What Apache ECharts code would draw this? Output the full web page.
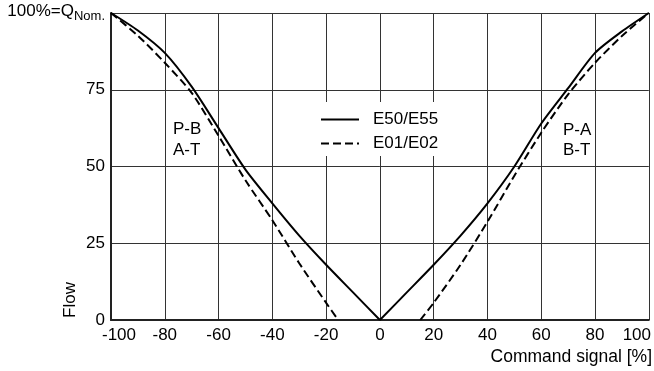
<!DOCTYPE html>
<html>
<head>
<meta charset="utf-8">
<script src="https://cdn.jsdelivr.net/npm/echarts@6/dist/echarts.min.js"></script>
<style>
html, body { margin: 0; padding: 0; background: #fff; }
#main { width: 654px; height: 371px; }
</style>
</head>
<body>
<div id="main"></div>
<script>
// flow curves (x = command signal %, y = flow %)
var solidLeftX = [-100, -90, -80, -70, -60, -50, -40, -30, -20, -10, 0];
var solidLeftY = [100, 94.3, 87, 76, 62.5, 49, 38, 27.5, 18, 9, 0];
var solidRightX = [0, 10, 20, 30, 40, 50, 60, 70, 80, 90, 100];
var solidRightY = [0, 9, 18, 27.5, 38, 50, 64, 75.5, 87, 94, 100];

var dashLeftX = [-100, -90, -80, -70, -60, -50, -40, -30, -20, -15.5];
var dashLeftY = [100, 92.6, 83.8, 74, 60, 45.5, 32.5, 18.5, 5.6, 0];
var dashRightX = [15, 20, 30, 40, 50, 60, 70, 80, 90, 100];
var dashRightY = [0, 5.6, 18, 32, 47, 61, 73.5, 83.8, 92.5, 100];

var seriesNames = ['E50/E55', 'E01/E02'];
var FONT = 'Liberation Sans, Arial, sans-serif';

function pairs(xs, ys) {
  var out = [];
  for (var i = 0; i < xs.length; i++) out.push([xs[i], ys[i]]);
  return out;
}

function lineSeries(name, xs, ys, dashed) {
  return {
    name: name,
    type: 'line',
    data: pairs(xs, ys),
    symbol: 'none',
    smooth: 0.25,
    lineStyle: {
      color: '#000',
      width: 2,
      type: dashed ? [8, 4] : 'solid'
    },
    itemStyle: { color: '#000' },
    z: 3
  };
}

var chart = echarts.init(document.getElementById('main'));

var option = {
  animation: false,
  backgroundColor: '#fff',
  grid: { left: 111, right: 4, top: 13, bottom: 51 },
  legend: {
    data: seriesNames,
    orient: 'vertical',
    left: 312,
    top: 102,
    padding: [9, 8, 4, 8],
    itemWidth: 38,
    itemHeight: 14,
    itemGap: 7,
    backgroundColor: '#fff',
    selectedMode: false,
    itemStyle: { opacity: 0 },
    textStyle: {
      color: '#000',
      fontSize: 17,
      fontFamily: FONT,
      padding: [0, 0, 0, 9]
    }
  },
  xAxis: {
    type: 'value',
    min: -100,
    max: 100,
    interval: 20,
    axisLine: { show: true, onZero: false, lineStyle: { color: '#222', width: 2 } },
    axisTick: { show: false },
    splitLine: { show: true, lineStyle: { color: '#333', width: 1 } },
    axisLabel: {
      margin: 7,
      color: '#000',
      fontSize: 17,
      fontFamily: FONT,
      formatter: function (v) {
        if (v === -100) return '{lo|-100}';
        if (v === 100) return '{hi|100}';
        return v;
      },
      rich: {
        lo: { fontSize: 17, fontFamily: FONT, color: '#000', padding: [0, 0, 0, 16] },
        hi: { fontSize: 17, fontFamily: FONT, color: '#000', padding: [0, 24, 0, 0] }
      }
    }
  },
  yAxis: {
    type: 'value',
    min: 0,
    max: 100,
    interval: 25,
    axisLine: { show: true, onZero: false, lineStyle: { color: '#222', width: 2 } },
    axisTick: { show: false },
    splitLine: { show: true, lineStyle: { color: '#333', width: 1 } },
    axisLabel: {
      margin: 6,
      color: '#000',
      fontSize: 17,
      fontFamily: FONT,
      formatter: function (v) {
        if (v === 100) return '{a|100%=Q}{b|Nom.}';
        return v;
      },
      rich: {
        a: { fontSize: 17, fontFamily: FONT, color: '#000', verticalAlign: 'top', lineHeight: 20 },
        b: { fontSize: 13, fontFamily: FONT, color: '#000', verticalAlign: 'bottom', lineHeight: 20 }
      }
    }
  },
  graphic: [
    { type: 'text', x: 70, y: 300, rotation: Math.PI / 2,
      style: { text: 'Flow', fontSize: 17, fontFamily: FONT, fill: '#000', align: 'center', verticalAlign: 'middle' } },
    { type: 'text', x: 652, y: 357,
      style: { text: 'Command signal [%]', fontSize: 17.5, fontFamily: FONT, fill: '#000', align: 'right', verticalAlign: 'middle' } },
    { type: 'text', x: 173, y: 129,
      style: { text: 'P-B', fontSize: 17, fontFamily: FONT, fill: '#000', align: 'left', verticalAlign: 'middle' } },
    { type: 'text', x: 173, y: 150,
      style: { text: 'A-T', fontSize: 17, fontFamily: FONT, fill: '#000', align: 'left', verticalAlign: 'middle' } },
    { type: 'text', x: 563, y: 130,
      style: { text: 'P-A', fontSize: 17, fontFamily: FONT, fill: '#000', align: 'left', verticalAlign: 'middle' } },
    { type: 'text', x: 563, y: 150,
      style: { text: 'B-T', fontSize: 17, fontFamily: FONT, fill: '#000', align: 'left', verticalAlign: 'middle' } }
  ],
  series: [
    lineSeries(seriesNames[0], solidLeftX, solidLeftY, false),
    lineSeries(seriesNames[0], solidRightX, solidRightY, false),
    lineSeries(seriesNames[1], dashLeftX, dashLeftY, true),
    lineSeries(seriesNames[1], dashRightX, dashRightY, true)
  ]
};

chart.setOption(option);
</script>
</body>
</html>
